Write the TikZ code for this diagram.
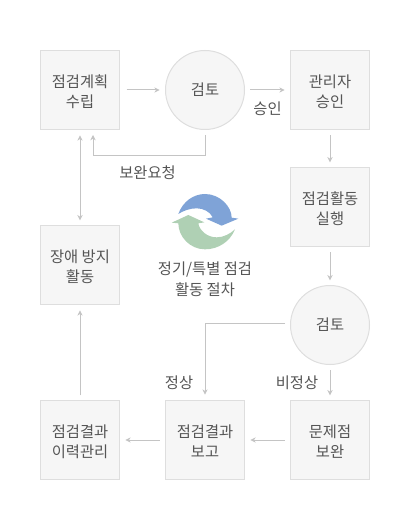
\documentclass[tikz,border=0pt]{standalone}
\usepackage{fontspec}
\setmainfont{Noto Sans CJK KR}[Scale=1]
\usetikzlibrary{arrows.meta}
\definecolor{boxfill}{HTML}{F6F6F6}
\definecolor{boxline}{HTML}{DEDEDE}
\definecolor{txt}{HTML}{555555}
\definecolor{conn}{HTML}{C4C4C4}
\definecolor{iconblue}{HTML}{7FA3D7}
\definecolor{icongreen}{HTML}{AFD0B4}
\newcommand\lowered[1]{\raisebox{-5.4pt}[0pt][0pt]{#1}}
\tikzset{
  x=0.75pt,y=-0.75pt,
  boxbase/.style={draw=boxline,fill=boxfill,line width=0.75pt,minimum width=59.25pt,minimum height=59.25pt,inner sep=0pt,align=center,text=txt,font=\fontsize{11.5pt}{15pt}\selectfont},
  procbox/.style={boxbase},
  decision/.style={boxbase,circle,minimum size=59.25pt},
  link/.style={draw=conn,line width=0.75pt,-{Stealth[length=4pt,width=4pt]}},
  biglink/.style={link,{Stealth[length=4pt,width=4pt]}-{Stealth[length=4pt,width=4pt]}},
  lbl/.style={text=txt,inner sep=0pt,align=center,font=\fontsize{11.5pt}{15.75pt}\selectfont},
}
\begin{document}
\begin{tikzpicture}
\useasboundingbox (0,0) rectangle (410,530);
\node[procbox] (plan) at (80,90) {\lowered{점검계획}\\\lowered{수립}};
\node[decision] (rev1) at (205,90) {검토};
\node[procbox] (appr) at (330,90) {\lowered{관리자}\\\lowered{승인}};
\node[procbox] (exec) at (330,207) {\lowered{점검활동}\\\lowered{실행}};
\node[procbox] (prev) at (80,265) {\lowered{장애 방지}\\\lowered{활동}};
\node[decision] (rev2) at (330,325) {검토};
\node[procbox] (fix) at (330,440) {\lowered{문제점}\\\lowered{보완}};
\node[procbox] (rep) at (205,440) {\lowered{점검결과}\\\lowered{보고}};
\node[procbox] (hist) at (80,440) {\lowered{점검결과}\\\lowered{이력관리}};
\path (rev1.south) ++(0,5) coordinate (a1) ++(0,21) coordinate (a2);
\coordinate (a3) at (93,156);
\coordinate (a4) at (93,135);
\draw[link] (a1) -- (a2) -- (a3) -- (a4);
\draw[link] ([xshift=5pt]plan.east) -- ([xshift=-4pt]rev1.west);
\draw[link] ([xshift=4pt]rev1.east) -- ([xshift=-4pt]appr.west);
\draw[link] ([yshift=-4pt]appr.south) -- ([yshift=3.5pt]exec.north);
\draw[link] ([yshift=-4pt]exec.south) -- ([yshift=3.5pt]rev2.north);
\draw[link] ([yshift=-4pt]rev2.south) -- ([yshift=3.5pt]fix.north);
\draw[link] ([xshift=-4pt]fix.west) -- ([xshift=4pt]rep.east);
\draw[link] ([xshift=-4pt]rep.west) -- ([xshift=4pt]hist.east);
\draw[link] ([yshift=3.5pt]hist.north) -- ([yshift=-4pt]prev.south);
\draw[biglink] ([yshift=3.5pt]prev.north) -- ([yshift=-4pt]plan.south);
\coordinate (b1) at (285,323);
\coordinate (b2) at (205,323);
\draw[link] (b1) -- (b2) -- ([yshift=4pt]rep.north);
\node[lbl] (l1) at (267.5,109) {승인};
\node[lbl] (l2) at (147.5,173) {보완요청};
\node[lbl] (l3) at (179,383) {정상};
\node[lbl] (l4) at (297,383) {비정상};
\node[lbl] (l5) at (205,279) {정기/특별 점검\\활동 절차};
\begin{scope}[shift={(170,190)},x=0.25pt,y=-0.25pt]
\fill[iconblue] (25,72) .. controls (38,35) and (70,12) .. (105,12) .. controls (150,12) and (185,50) .. (185,83) -- (205,86) -- (155,107) -- (108,86) -- (128,82) .. controls (120,65) and (100,55) .. (80,55) .. controls (60,55) and (40,62) .. (25,72) -- cycle;
\fill[icongreen] (195,118) .. controls (180,155) and (145,178) .. (105,178) .. controls (60,178) and (25,140) .. (25,100) -- (5,98) -- (55,75) -- (103,97) -- (85,100) .. controls (88,120) and (110,142) .. (140,142) .. controls (160,142) and (180,132) .. (195,118) -- cycle;
\end{scope}
\end{tikzpicture}
\end{document}
